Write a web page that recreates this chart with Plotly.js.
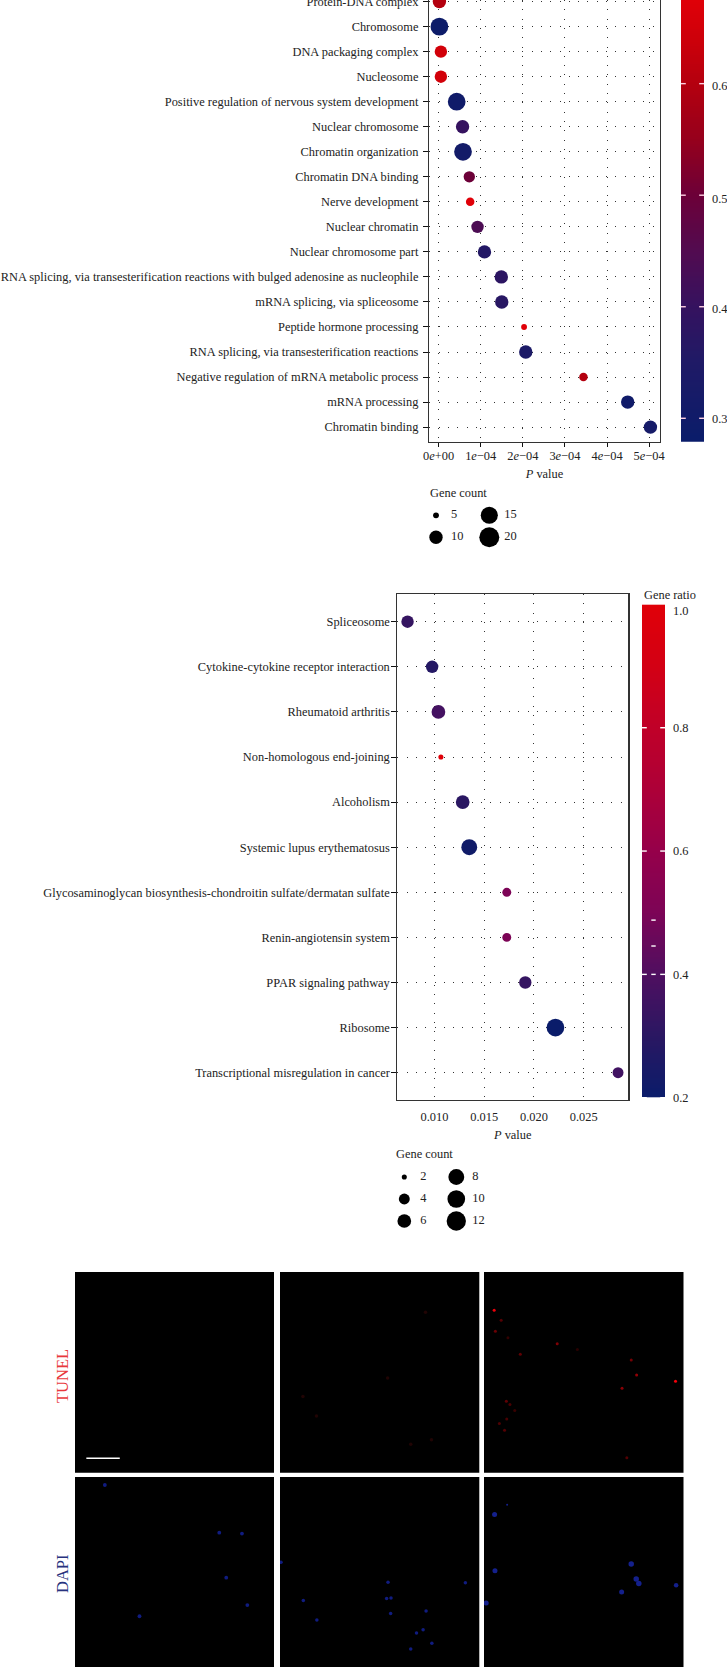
<!DOCTYPE html>
<html>
<head>
<meta charset="utf-8">
<script src="https://cdn.plot.ly/plotly-3.0.1.min.js"></script>
<style>html,body{margin:0;padding:0;background:#fff}#chart{width:727px;height:1667px}</style>
</head>
<body>
<div id="chart"></div>
<script>
// ---------- GO enrichment ----------
const goTerms = ["Protein-DNA complex","Chromosome","DNA packaging complex","Nucleosome",
  "Positive regulation of nervous system development","Nuclear chromosome","Chromatin organization",
  "Chromatin DNA binding","Nerve development","Nuclear chromatin","Nuclear chromosome part",
  "RNA splicing, via transesterification reactions with bulged adenosine as nucleophile",
  "mRNA splicing, via spliceosome","Peptide hormone processing",
  "RNA splicing, via transesterification reactions","Negative regulation of mRNA metabolic process",
  "mRNA processing","Chromatin binding"];
const goP = [0.000002,0.000002,0.0000055,0.0000055,0.000043,0.000057,0.000058,0.000073,0.000075,
  0.0000925,0.000109,0.000149,0.00015,0.000203,0.000207,0.000344,0.000449,0.000503];
const goCount = [10,16,9,9,16,10,16,8,6,9,10,10,10,5,10,6,10,10];
const goRatio = [0.60,0.29,0.65,0.65,0.30,0.40,0.31,0.50,0.675,0.44,0.36,0.38,0.37,0.675,0.34,0.60,0.30,0.32];
const goTickVals = [0,0.0001,0.0002,0.0003,0.0004,0.0005];
const goTickText = ["0<i>e</i>+00","1<i>e</i>−04","2<i>e</i>−04","3<i>e</i>−04","4<i>e</i>−04","5<i>e</i>−04"];
const goRatioTicks = [0.3,0.4,0.5,0.6];
const goRatioLabelAt = [0.3,0.398,0.497,0.598];
const goLegendCounts = [5,10,15,20];

// ---------- KEGG enrichment ----------
const keggTerms = ["Spliceosome","Cytokine-cytokine receptor interaction","Rheumatoid arthritis",
  "Non-homologous end-joining","Alcoholism","Systemic lupus erythematosus",
  "Glycosaminoglycan biosynthesis-chondroitin sulfate/dermatan sulfate","Renin-angiotensin system",
  "PPAR signaling pathway","Ribosome","Transcriptional misregulation in cancer"];
const keggP = [0.0073,0.00977,0.0104,0.01065,0.01284,0.0135,0.01727,0.01727,0.01913,0.02216,0.02845];
const keggCount = [5,5,6,2,6,8,3,3,5,10,4];
const keggRatio = [0.33,0.28,0.37,1.0,0.30,0.22,0.50,0.50,0.33,0.20,0.36];
const keggTickVals = [0.010,0.015,0.020,0.025];
const keggTickText = ["0.010","0.015","0.020","0.025"];
const keggRatioTicks = [0.2,0.4,0.6,0.8,1.0];
const keggRatioLabelAt = [0.2,0.4,0.6,0.8,0.99];
const keggRatioMarks = [0.446,0.488,0.4];
const keggLegendCounts = [2,4,6,8,10,12];

// ---------- Micrograph spots (percent of panel width / height) ----------
const dapi1X = [15,72.5,83.9,76,86.6,32.4];
const dapi1Y = [4.2,29.3,29.8,53,67.4,73.3];
const dapi2X = [0.5,54.2,93,11.7,55.7,53.5,55.5,73.3,18.5,71.8,68.5,76.2,65.6];
const dapi2Y = [44.9,55.4,55.6,65,63.7,64,71.8,70.5,75.3,80.4,82.1,87.5,90.5];
const dapi3X = [5.3,11.6,5.5,73.8,76.3,77.6,96.3,69,1.1];
const dapi3Y = [19.8,14.6,49.3,45.8,53.7,56,57,60.5,66.3];
const dapi3Size = [5,2,5,5.5,5.5,5.5,4.5,5,5];
const tunel2X = [73,54,11.5,18.3,76,65.6];
const tunel2Y = [20,52.8,62,71.8,83.6,85.8];
const tunel3X = [5.1,8.6,5.7,12,36.7,46.8,18.2,73.8,76.5,96,69.2,11.2,13,15.4,11.4,7.7,10.3,71.6];
const tunel3Y = [19,24,29.5,32.7,35.8,38.6,41,43.9,51.3,54.4,57.9,64.4,66,69,73.3,75.5,78.8,92.5];
const tunel3Level = [0.95,0.25,0.35,0.1,0.45,0.05,0.3,0.4,0.55,1,0.5,0.3,0.2,0.12,0.2,0.22,0.25,0.25];
const scaleBarX = [5.7,22.5];
const scaleBarY = [92.8,92.8];

// ---------- helpers ----------
const W = 727, H = 1667;
const px = v => v / W;
const py = v => 1 - v / H;
const serif = "'Liberation Serif', serif";
const ink = "#222222";
const fs = 12.4;
const goSize = n => 4 + 16 * Math.sqrt((n - 4.8) / 15.2);
const keggSize = n => 4 + 15.3 * Math.sqrt((n - 1.95) / 10.05);

const goCmin = 0.279, goCmax = 0.675;
const goStops = [[0.279,"#0a1c6a"],[0.35,"#1f1a66"],[0.40,"#35125f"],[0.45,"#520b50"],[0.50,"#6c0038"],
  [0.55,"#96001c"],[0.60,"#b4000f"],[0.64,"#cd000a"],[0.675,"#e00008"]];
const goScale = goStops.map(s => [(s[0]-goCmin)/(goCmax-goCmin), s[1]]);
const keggScale = [[0,"#0a1c6a"],[0.125,"#2a1762"],[0.25,"#4f0f60"],[0.375,"#7c0456"],[0.5,"#96004a"],
  [0.625,"#ad0038"],[0.75,"#c00028"],[0.875,"#d30014"],[1,"#e00008"]];

const baseAxis = {showline:true, linecolor:"#333333", linewidth:1.4, zeroline:false,
  tickfont:{family:serif,size:fs,color:ink}, ticks:"outside", tickcolor:"#111",
  showgrid:true, gridcolor:"#333333", gridwidth:1, griddash:"1px,8.3px"};

const data = [];
const layout = {
  width:W, height:H, margin:{l:0,r:0,t:0,b:0,autoexpand:false},
  paper_bgcolor:"#ffffff", plot_bgcolor:"#ffffff", showlegend:false,
  font:{family:serif,size:fs,color:ink}, shapes:[], annotations:[]
};

// GO dot plot
const goTop = 0, goBottom = 441.7, goRow = 25.03, goFirstRow = 1.6;
layout.xaxis = Object.assign({}, baseAxis, {domain:[px(429.3),px(659.7)], anchor:"y",
  range:[-0.000022,0.000525], tickmode:"array", tickvals:goTickVals, ticktext:goTickText, ticklen:4, ticklabelstandoff:-2,
  title:{text:"<i>P</i> value", font:{family:serif,size:fs,color:ink}, standoff:7}});
layout.yaxis = Object.assign({}, baseAxis, {domain:[py(goBottom),py(goTop)], anchor:"x", mirror:true,
  type:"category", categoryorder:"array", categoryarray:goTerms, ticklen:5, ticklabelstandoff:2,
  range:[(goBottom-goFirstRow)/goRow,(goTop-goFirstRow)/goRow]});
data.push({type:"scatter", mode:"markers", x:goP, y:goTerms, xaxis:"x", yaxis:"y",
  marker:{size:goCount.map(goSize), sizemode:"diameter", opacity:1, color:goRatio, cmin:goCmin, cmax:goCmax,
    colorscale:goScale, showscale:false, line:{width:0}}});

// KEGG dot plot
const kTop = 594, kBottom = 1099.7, kRow = 45.1, kFirstRow = 621.7;
layout.xaxis2 = Object.assign({}, baseAxis, {domain:[px(397.3),px(628.2)], anchor:"y2", mirror:true,
  range:[0.00627,0.02947], tickmode:"array", tickvals:keggTickVals, ticktext:keggTickText, ticks:"", ticklen:0, ticklabelstandoff:5,
  title:{text:"<i>P</i> value", font:{family:serif,size:fs,color:ink}, standoff:7}});
layout.yaxis2 = Object.assign({}, baseAxis, {domain:[py(kBottom),py(kTop)], anchor:"x2", mirror:true,
  type:"category", categoryorder:"array", categoryarray:keggTerms, ticklen:4.6, ticklabelstandoff:-1,
  range:[(kBottom-kFirstRow)/kRow,(kTop-kFirstRow)/kRow]});
data.push({type:"scatter", mode:"markers", x:keggP, y:keggTerms, xaxis:"x2", yaxis:"y2",
  marker:{size:keggCount.map(keggSize), sizemode:"diameter", opacity:1, color:keggRatio, cmin:0.2, cmax:1.0,
    colorscale:keggScale, showscale:false, line:{width:0}}});

// gradient bars: a one-column heatmap on its own axes, with the same colour scale as the dots
function ratioBar(id, xLeft, xRight, yTop, yBottom, cmin, cmax, scale, tickVals, labelAt, tickColor, extraMarks){
  const levels = Array.from({length:200}, (_,i) => cmin + (cmax-cmin)*(i+0.5)/200);
  layout["xaxis"+id] = {domain:[px(xLeft),px(xRight)], anchor:"y"+id, visible:false, range:[-0.5,0.5], fixedrange:true};
  layout["yaxis"+id] = {domain:[py(yBottom),py(yTop)], anchor:"x"+id, side:"right", range:[cmin,cmax], fixedrange:true,
    showgrid:false, zeroline:false, showline:false, ticks:"", ticklabelstandoff:7,
    tickmode:"array", tickvals:labelAt, ticktext:tickVals.map(v=>v.toFixed(1)),
    tickfont:{family:serif,size:fs,color:ink}};
  data.push({type:"heatmap", x:[0], y:levels, z:levels.map(v=>[v]), xaxis:"x"+id, yaxis:"y"+id,
    zmin:cmin, zmax:cmax, colorscale:scale, showscale:false, hoverinfo:"skip"});
  const yOf = v => yBottom - (v-cmin)/(cmax-cmin)*(yBottom-yTop);
  const mark = (x0,x1,v) => layout.shapes.push({type:"line", xref:"paper", yref:"paper", x0:px(x0), x1:px(x1),
    y0:py(yOf(v)), y1:py(yOf(v)), line:{color:tickColor, width:1.4}, layer:"above"});
  tickVals.filter(v => v < cmax).forEach(v => { mark(xLeft,xLeft+4.8,v); mark(xRight-4.8,xRight,v); });
  extraMarks.forEach(v => mark((xLeft+xRight)/2-2.2,(xLeft+xRight)/2+2.2,v));
}
ratioBar(11, 681, 704, goTop, goBottom, goCmin, goCmax, goScale, goRatioTicks, goRatioLabelAt, "#ffd0e2", []);
ratioBar(12, 642, 665, 604.4, 1097.7, 0.2, 1.0, keggScale, keggRatioTicks, keggRatioLabelAt, "#ffffff", keggRatioMarks);

// size legends
function sizeLegend(id, counts, sizeFn, rowsPerCol, xLeft, xRight, yTop, yBottom, col0, colGap, row0, rowGap, labelOff){
  const cols = counts.map((c,i)=>Math.floor(i/rowsPerCol));
  const rows = counts.map((c,i)=>i%rowsPerCol);
  layout["xaxis"+id] = {domain:[px(xLeft),px(xRight)], anchor:"y"+id, visible:false, fixedrange:true,
    range:[(xLeft-col0)/colGap,(xRight-col0)/colGap]};
  layout["yaxis"+id] = {domain:[py(yBottom),py(yTop)], anchor:"x"+id, visible:false, fixedrange:true,
    range:[(yBottom-row0)/rowGap,(yTop-row0)/rowGap]};
  data.push({type:"scatter", mode:"markers", x:cols, y:rows, xaxis:"x"+id, yaxis:"y"+id, cliponaxis:false,
    marker:{size:counts.map(sizeFn), opacity:1, color:"#000000", line:{width:0}}, hoverinfo:"skip"});
  data.push({type:"scatter", mode:"text", x:cols.map(c=>c+labelOff/colGap), y:rows, xaxis:"x"+id, yaxis:"y"+id,
    text:counts.map(String), textposition:"middle right", cliponaxis:false,
    textfont:{family:serif,size:fs,color:ink}, hoverinfo:"skip"});
}
sizeLegend(3, goLegendCounts, goSize, 2, 425, 530, 503, 550, 436, 53.3, 515.3, 22, 15);
sizeLegend(4, keggLegendCounts, keggSize, 3, 392, 500, 1165, 1234, 404.3, 52, 1177, 22, 16);

const note = (text,x,y,extra) => layout.annotations.push(Object.assign({text, xref:"paper", yref:"paper",
  x:px(x), y:py(y), xanchor:"left", yanchor:"middle", showarrow:false,
  font:{family:serif,size:fs,color:ink}}, extra||{}));
note("Gene count",428,492.7);
note("Gene count",394,1154);
note("Gene ratio",642,595.3);
note("TUNEL",62,1376,{xanchor:"center",textangle:-90,font:{family:serif,size:16.5,color:"#e8383c"}});
note("DAPI",62,1574,{xanchor:"center",textangle:-90,font:{family:serif,size:16.5,color:"#27327e"}});

// micrograph panels
const panelCols = [[75,274],[280,479.3],[484,683.5]];
const panelRows = [[1272,1472.7],[1477,1667]];
function panel(id,col,row){
  layout["xaxis"+id] = {domain:[px(panelCols[col][0]),px(panelCols[col][1])], anchor:"y"+id, visible:false, range:[0,100], fixedrange:true};
  layout["yaxis"+id] = {domain:[py(panelRows[row][1]),py(panelRows[row][0])], anchor:"x"+id, visible:false, range:[100,0], fixedrange:true};
  layout.shapes.push({type:"rect", xref:"x"+id+" domain", yref:"y"+id+" domain", x0:0,x1:1,y0:0,y1:1,
    fillcolor:"#000000", line:{width:0}, layer:"below"});
}
panel(5,0,0); panel(6,1,0); panel(7,2,0); panel(8,0,1); panel(9,1,1); panel(10,2,1);
const spots = (id,x,y,color,size) => data.push({type:"scatter", mode:"markers", x, y, xaxis:"x"+id, yaxis:"y"+id,
  marker:{size, opacity:1, color, line:{width:0}}, hoverinfo:"skip"});
data.push({type:"scatter", mode:"lines", x:scaleBarX, y:scaleBarY, xaxis:"x5", yaxis:"y5",
  line:{color:"#ffffff", width:1.5}, hoverinfo:"skip"});
spots(6, tunel2X, tunel2Y, "#200404", 3.5);
spots(7, tunel3X, tunel3Y, tunel3Level.map(l=>`rgb(${Math.round(30+215*l)},0,${Math.round(10*l)})`), 3);
spots(8, dapi1X, dapi1Y, "#101c80", 3.8);
spots(9, dapi2X, dapi2Y, "#101c80", 3.5);
spots(10, dapi3X, dapi3Y, "#14208c", dapi3Size);

Plotly.newPlot("chart", data, layout, {staticPlot:true, displayModeBar:false});
</script>
</body>
</html>
